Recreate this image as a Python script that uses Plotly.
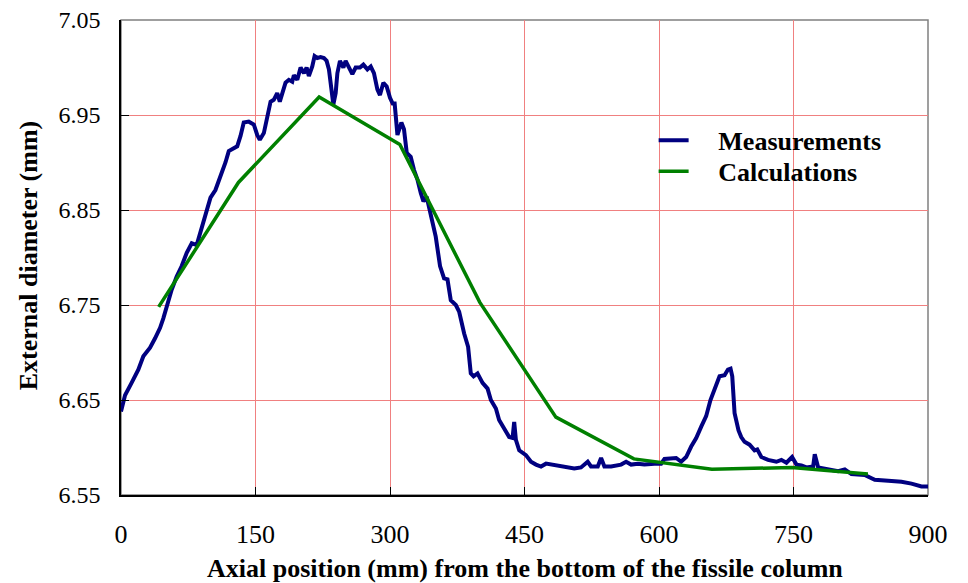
import plotly.graph_objects as go

# Measurements (blue)
meas_x = [0, 4.5, 11.8, 19.3, 24.9, 32.4, 38.0, 43.6, 47.2, 50.9, 56.5, 62.1, 67.7, 73.3, 78.9, 84.4,
          92.0, 99.8, 105.3, 110.9, 116.5, 120.2, 125.8, 129.6, 133.3, 136.9, 142.5, 148.1, 151.9, 154.8,
          159.3, 163.1, 166.8, 170.4, 174.2, 177.1, 179.8, 183.5, 187.2, 191.0, 192.8, 196.6, 200.3, 204.0,
          207.0, 209.5, 213.3, 215.9, 218.9, 222.6, 226.3, 229.3, 231.9, 234.6, 236.8, 239.4, 241.3, 244.2,
          248.0, 250.5, 254.2, 258.0, 261.7, 266.5, 270.3, 274.8, 278.5, 282.1, 285.9, 288.8, 292.6, 296.3,
          300.0, 303.0, 305.2, 308.3, 312.7, 315.6, 318.7, 323.1, 326.8, 330.6, 334.3, 337.3, 340.9, 345.4,
          351.0, 355.8, 360.3, 364.1, 367.8, 373.4, 377.1, 382.7, 387.1, 390.1, 393.2, 397.6, 403.2, 408.8,
          412.5, 418.1, 421.7, 427.3, 432.9, 436.7, 438.5, 440.4, 444.1, 451.6, 457.2, 462.8, 468.4, 474.0,
          479.5, 488.8, 494.4, 505.5, 513.0, 520.5, 524.2, 531.7, 535.4, 539.1, 546.6, 557.7, 563.3, 568.9,
          576.3, 583.7, 594.9, 602.4, 606.1, 613.6, 619.1, 624.7, 630.3, 635.9, 641.5, 647.1, 652.6, 657.4,
          661.9, 667.5, 673.1, 676.9, 679.8, 681.7, 684.3, 688.7, 691.7, 695.4, 701.0, 706.6, 709.6, 714.1,
          721.6, 730.9, 736.5, 742.1, 748.4, 753.3, 758.8, 764.4, 771.9, 773.7, 777.5, 788.6, 799.8, 807.2,
          814.6, 829.4, 840.6, 855.6, 870.4, 881.6, 892.7, 900.0]
meas_y = [6.638, 6.655, 6.668, 6.682, 6.696, 6.705, 6.715, 6.726, 6.736, 6.748, 6.766, 6.780, 6.791, 6.805, 6.815, 6.813,
          6.838, 6.863, 6.871, 6.885, 6.900, 6.912, 6.915, 6.917, 6.928, 6.942, 6.943, 6.940, 6.929, 6.924,
          6.931, 6.949, 6.964, 6.966, 6.973, 6.964, 6.973, 6.984, 6.987, 6.985, 6.992, 6.987, 7.000, 6.994,
          7.000, 6.991, 7.001, 7.012, 7.010, 7.011, 7.010, 7.007, 6.998, 6.977, 6.961, 6.973, 6.994, 7.007,
          7.000, 7.007, 7.001, 6.993, 7.000, 7.000, 7.003, 6.998, 7.001, 6.994, 6.977, 6.971, 6.984, 6.980,
          6.968, 6.962, 6.962, 6.929, 6.942, 6.935, 6.910, 6.906, 6.892, 6.882, 6.868, 6.859, 6.864, 6.843,
          6.822, 6.791, 6.778, 6.777, 6.755, 6.750, 6.743, 6.720, 6.706, 6.678, 6.675, 6.678, 6.668, 6.662,
          6.650, 6.641, 6.629, 6.620, 6.611, 6.610, 6.627, 6.608, 6.597, 6.592, 6.585, 6.582, 6.580, 6.583,
          6.582, 6.580, 6.580, 6.578, 6.579, 6.585, 6.580, 6.580, 6.589, 6.580, 6.580, 6.582, 6.585, 6.582,
          6.583, 6.582, 6.583, 6.583, 6.588, 6.588, 6.589, 6.585, 6.590, 6.601, 6.610, 6.622, 6.633, 6.650,
          6.661, 6.675, 6.676, 6.682, 6.683, 6.675, 6.636, 6.618, 6.611, 6.606, 6.603, 6.597, 6.598, 6.590,
          6.587, 6.585, 6.587, 6.584, 6.590, 6.582, 6.581, 6.579, 6.580, 6.593, 6.579, 6.577, 6.575, 6.577,
          6.572, 6.571, 6.566, 6.565, 6.564, 6.562, 6.559, 6.559]

# Calculations (green)
calc_x = [42, 131, 221, 311, 400, 485, 572, 659, 748, 833]
calc_y = [6.748, 6.879, 6.969, 6.919, 6.753, 6.632, 6.588, 6.577, 6.579, 6.572]

x_ticks = [0, 150, 300, 450, 600, 750, 900]
y_ticks = [6.55, 6.65, 6.75, 6.85, 6.95, 7.05]
y_tick_text = ["6.55", "6.65", "6.75", "6.85", "6.95", "7.05"]

x_title = "Axial position (mm) from the bottom of the fissile column"
y_title = "External diameter (mm)"

PAD = "\u00a0" * 3 + "\u2009"
serif = "Liberation Serif"

fig = go.Figure()
fig.add_trace(go.Scatter(x=meas_x, y=meas_y, mode="lines", name=PAD + "Measurements",
                         line=dict(color="#000080", width=4), legend="legend"))
fig.add_trace(go.Scatter(x=calc_x, y=calc_y, mode="lines", name=PAD + "Calculations",
                         line=dict(color="#008000", width=3.5), legend="legend2"))

legend_style = dict(xanchor="left", yanchor="top", bgcolor="rgba(0,0,0,0)",
                    font=dict(family=serif, size=26, color="black", weight="bold"),
                    itemwidth=30)
fig.update_layout(
    width=960, height=575,
    margin=dict(l=113, r=40, t=12, b=88),
    paper_bgcolor="white", plot_bgcolor="white",
    font=dict(family=serif, color="black"),
    showlegend=True,
    legend=dict(x=0.66, y=0.796, **legend_style),
    legend2=dict(x=0.66, y=0.731, **legend_style),
    shapes=[dict(type="rect", xref="x domain", yref="y domain", x0=0, x1=1, y0=0, y1=1,
                 line=dict(color="#808080", width=1.5), layer="below")],
    annotations=[
        dict(text="<b>" + x_title + "</b>", xref="paper", yref="paper", x=0.5, y=-0.1537,
             xanchor="center", yanchor="middle", showarrow=False,
             font=dict(family=serif, size=26, color="black")),
        dict(text="<b>" + y_title + "</b>", xref="paper", yref="paper", x=-0.115, y=0.505,
             xanchor="center", yanchor="middle", showarrow=False, textangle=-90,
             font=dict(family=serif, size=26, color="black")),
    ],
)
fig.update_xaxes(
    range=[0, 900], tickvals=x_ticks, ticktext=[str(v) for v in x_ticks],
    showgrid=True, gridcolor="#F08080", gridwidth=1,
    showline=True, linecolor="black", linewidth=1.5, mirror=False,
    ticks="inside", ticklen=8, tickcolor="black", tickwidth=1,
    tickfont=dict(family=serif, size=26, color="black"),
    ticklabelstandoff=15, zeroline=False, automargin=False, ticklabeloverflow="allow",
)
fig.update_yaxes(
    range=[6.55, 7.05], tickvals=y_ticks, ticktext=y_tick_text,
    showgrid=True, gridcolor="#F08080", gridwidth=1,
    showline=True, linecolor="black", linewidth=1.5, mirror=False,
    ticks="inside", ticklen=8, tickcolor="black", tickwidth=1,
    tickfont=dict(family=serif, size=24, color="black"),
    ticklabelstandoff=14, zeroline=False, automargin=False, ticklabeloverflow="allow",
)
fig.write_html("out.html")
